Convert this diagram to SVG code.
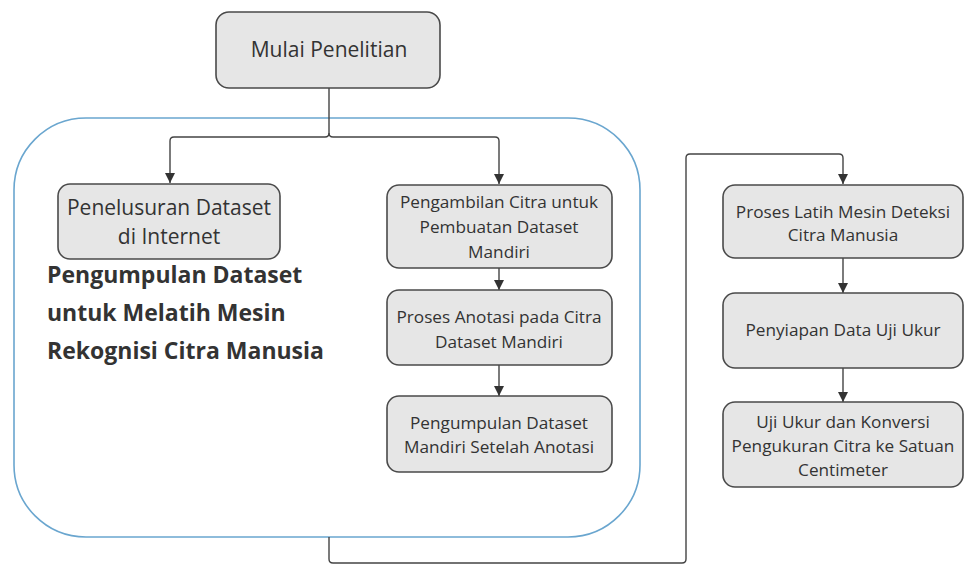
<svg xmlns="http://www.w3.org/2000/svg" width="965" height="567" viewBox="0 0 965 567">
<style>
.box{fill:#e6e6e6;stroke:#4a4a4a;stroke-width:1.6}
.t{font-family:"Open Sans","Noto Sans",sans-serif;fill:#333;text-anchor:middle}
.s{font-size:17.2px}
.m{font-size:21px}
.c{fill:none;stroke:#444;stroke-width:1.4}
</style>
<defs>
<marker id="ah" viewBox="0 0 10 10" refX="10" refY="5" markerWidth="10" markerHeight="10" markerUnits="userSpaceOnUse" orient="auto">
<path d="M0,0 L10,5 L0,10 z" fill="#333"/>
</marker>
</defs>
<rect width="965" height="567" fill="#fff"/>
<g id="container">
<rect x="14" y="118" width="626" height="419" rx="72" ry="72" fill="none" stroke="#6aa6cf" stroke-width="1.6"/>
<g class="t" style="text-anchor:start;font-weight:bold;font-size:23px" fill="#222">
<text x="47" y="283">Pengumpulan Dataset</text>
<text x="47" y="321">untuk Melatih Mesin</text>
<text x="47" y="359">Rekognisi Citra Manusia</text>
</g>
</g>
<g id="connectors">
<path class="c" d="M329,88 V133 Q329,137 325,137 H174 Q170,137 170,141 V183" marker-end="url(#ah)"/>
<path class="c" d="M329,133 Q329,137 333,137 H495 Q499,137 499,141 V184" marker-end="url(#ah)"/>
<path class="c" d="M499,268 V290" marker-end="url(#ah)"/>
<path class="c" d="M499,365 V396" marker-end="url(#ah)"/>
<path class="c" d="M329,537 V559 Q329,563 333,563 H682 Q686,563 686,559 V158 Q686,154 690,154 H839 Q843,154 843,158 V184" marker-end="url(#ah)"/>
<path class="c" d="M843,258 V293" marker-end="url(#ah)"/>
<path class="c" d="M843,368 V402" marker-end="url(#ah)"/>
</g>
<g id="n-mulai">
<rect class="box" x="216" y="12" width="224" height="76" rx="13"/>
<text class="t m" x="329" y="57">Mulai Penelitian</text>
</g>
<g id="n-penelusuran">
<rect class="box" x="58" y="184" width="222" height="75" rx="12"/>
<text class="t m" x="169" y="215">Penelusuran Dataset</text>
<text class="t m" x="169" y="244">di Internet</text>
</g>
<g id="n-pengambilan">
<rect class="box" x="387" y="185" width="225" height="83" rx="12"/>
<text class="t s" x="499" y="208">Pengambilan Citra untuk</text>
<text class="t s" x="499" y="233">Pembuatan Dataset</text>
<text class="t s" x="499" y="258">Mandiri</text>
</g>
<g id="n-anotasi">
<rect class="box" x="387" y="290" width="225" height="75" rx="12"/>
<text class="t s" x="499" y="323">Proses Anotasi pada Citra</text>
<text class="t s" x="499" y="348">Dataset Mandiri</text>
</g>
<g id="n-pengumpulan">
<rect class="box" x="387" y="396" width="225" height="76" rx="12"/>
<text class="t s" x="499" y="429">Pengumpulan Dataset</text>
<text class="t s" x="499" y="453">Mandiri Setelah Anotasi</text>
</g>
<g id="n-latih">
<rect class="box" x="723" y="185" width="240" height="73" rx="12"/>
<text class="t s" x="843" y="218">Proses Latih Mesin Deteksi</text>
<text class="t s" x="843" y="241">Citra Manusia</text>
</g>
<g id="n-penyiapan">
<rect class="box" x="723" y="293" width="240" height="75" rx="12"/>
<text class="t s" x="843" y="336">Penyiapan Data Uji Ukur</text>
</g>
<g id="n-ujiukur">
<rect class="box" x="723" y="402" width="240" height="85" rx="12"/>
<text class="t s" x="843" y="428">Uji Ukur dan Konversi</text>
<text class="t s" x="843" y="452">Pengukuran Citra ke Satuan</text>
<text class="t s" x="843" y="476">Centimeter</text>
</g>
</svg>
